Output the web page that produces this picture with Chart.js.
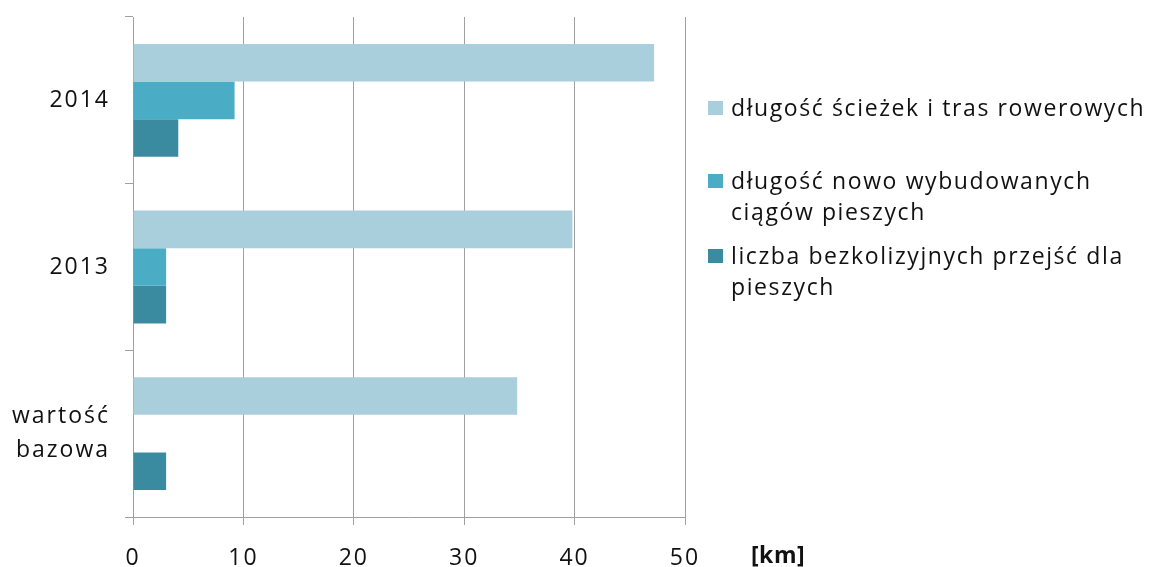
<!DOCTYPE html>
<html>
<head>
<meta charset="utf-8">
<script src="https://cdn.jsdelivr.net/npm/chart.js@4/dist/chart.umd.min.js"></script>
<style>
  html, body { margin: 0; padding: 0; background: #fff; }
  #wrap { position: relative; width: 1151px; height: 567px; overflow: hidden; }
  #c { position: absolute; left: 0; top: 0; }
  .leg { position: absolute; font-family: "Open Sans", sans-serif; font-size: 23px; letter-spacing: 1.6px; color: #111; line-height: 31px; white-space: nowrap; }
  .sw { position: absolute; width: 15px; height: 14px; }
  #unit { position: absolute; left: 751px; top: 538px; font-family: "Open Sans", sans-serif; font-weight: bold; font-size: 23px; letter-spacing: 0.5px; color: #111; }
</style>
</head>
<body>
<div id="wrap">
  <canvas id="c" width="1151" height="567"></canvas>
  <div id="unit">[km]</div>
</div>
<script>
const categories = ['2014', '2013', ['wartość', 'bazowa']];
const seriesNames = ['długość ścieżek i tras rowerowych', 'długość nowo wybudowanych ciągów pieszych', 'liczba bezkolizyjnych przejść dla pieszych'];
const seriesLegendLines = [['długość ścieżek i tras rowerowych'], ['długość nowo wybudowanych', 'ciągów pieszych'], ['liczba bezkolizyjnych przejść dla', 'pieszych']];
const bikePaths = [47.2, 39.8, 34.8];
const walkways = [9.2, 3.0, null];
const crossings = [4.1, 3.0, 3.0];
const seriesColors = ['#A9CEDC', '#4AACC5', '#3B8BA0'];
const xTickValues = [0, 10, 20, 30, 40, 50];

const spacingPlugin = {
  id: 'spacing',
  beforeDraw(chart) { chart.ctx.letterSpacing = '2px'; }
};

const chart = new Chart(document.getElementById('c'), {
  type: 'bar',
  data: {
    labels: categories,
    datasets: [
      { label: seriesNames[0], data: bikePaths, backgroundColor: seriesColors[0] },
      { label: seriesNames[1], data: walkways, backgroundColor: seriesColors[1] },
      { label: seriesNames[2], data: crossings, backgroundColor: seriesColors[2] }
    ]
  },
  options: {
    indexAxis: 'y',
    responsive: false,
    animation: false,
    devicePixelRatio: 1,
    layout: { padding: { left: 0, right: 466, top: 17, bottom: 0 } },
    plugins: { legend: { display: false }, tooltip: { enabled: false } },
    datasets: { bar: { categoryPercentage: 0.677, barPercentage: 1.0 } },
    scales: {
      x: {
        min: 0, max: 50,
        afterBuildTicks(scale) { scale.ticks = xTickValues.map(v => ({ value: v })); },
        afterFit(scale) { scale.height = 50; scale.paddingLeft = 0; scale.paddingRight = 0; },
        grid: { color: '#A0A0A0', lineWidth: 1, tickLength: 8, drawOnChartArea: true },
        border: { display: true, color: '#A0A0A0', width: 1 },
        ticks: { color: '#111', padding: 20, font: { family: 'Open Sans', size: 23 }, maxRotation: 0 }
      },
      y: {
        afterFit(scale) { scale.width = 133; scale.paddingTop = 0; scale.paddingBottom = 0; },
        grid: { offset: true, drawOnChartArea: false, color: '#A0A0A0', tickLength: 8 },
        border: { display: true, color: '#A0A0A0', width: 1 },
        ticks: { color: '#111', padding: 15, font: { family: 'Open Sans', size: 23, lineHeight: 1.5 } }
      }
    }
  },
  plugins: [spacingPlugin]
});

// HTML legend built from dataset labels/colours
const wrap = document.getElementById('wrap');
const legendTops = [92, 165, 240];
seriesLegendLines.forEach((lines, i) => {
  const sw = document.createElement('div');
  sw.className = 'sw';
  sw.style.background = seriesColors[i];
  sw.style.left = '708px';
  sw.style.top = (legendTops[i] + 9) + 'px';
  wrap.appendChild(sw);
  const t = document.createElement('div');
  t.className = 'leg';
  t.style.left = '731px';
  t.style.top = legendTops[i] + 'px';
  t.innerHTML = lines.join('<br>');
  wrap.appendChild(t);
});
</script>
</body>
</html>
